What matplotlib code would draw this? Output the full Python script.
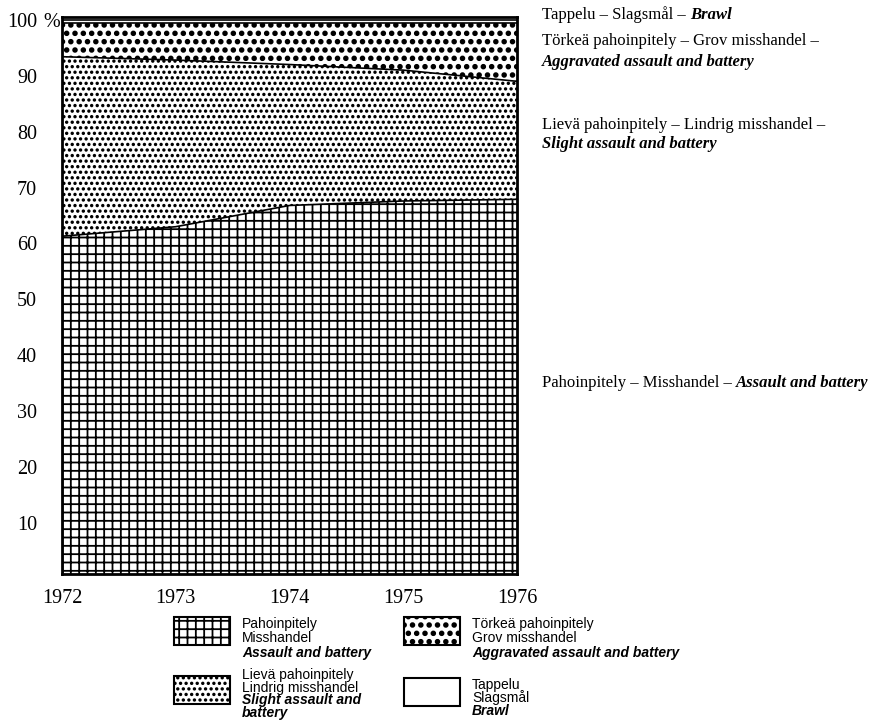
import numpy as np
import matplotlib.pyplot as plt
from matplotlib import hatch as mhatch
from matplotlib.patches import Rectangle

# osuudet prosentteina, alhaalta ylös
years = [1972, 1973, 1974, 1975, 1976]
assault = [61.3, 63.0, 66.8, 67.6, 67.9]
slight = [32.1, 29.8, 25.2, 23.4, 21.1]
aggravated = [6.1, 6.7, 7.5, 8.5, 10.5]
brawl = [0.5, 0.5, 0.5, 0.5, 0.5]

yticks = [10, 20, 30, 40, 50, 60, 70, 80, 90, 100]
ytick_labels = ['10', '20', '30', '40', '50', '60', '70', '80', '90', '100']

names_fi = ['Pahoinpitely', 'Lievä pahoinpitely', 'Törkeä pahoinpitely', 'Tappelu']
names_sv = ['Misshandel', 'Lindrig misshandel', 'Grov misshandel', 'Slagsmål']
names_en = [['Assault and battery'], ['Slight assault and', 'battery'],
            ['Aggravated assault and battery'], ['Brawl']]
hatches = ['++', '...', 'OO', '']

# pisteet täytetyiksi ja pienemmiksi kuin oletus
mhatch.LargeCircles.filled = True
mhatch.LargeCircles.size = 0.22
mhatch.SmallFilledCircles.size = 0.14
plt.rcParams['hatch.linewidth'] = 1.3
plt.rcParams['hatch.color'] = 'black'

serif = 'Liberation Serif'
sans = 'Liberation Sans'

fig = plt.figure(figsize=(8.91, 7.21), dpi=100)
ax = fig.add_axes([62 / 891, 1 - 574 / 721, (517 - 62) / 891, (574 - 17) / 721])

series = [assault, slight, aggravated, brawl]
tops = np.cumsum(np.array(series), axis=0)
bottom = np.zeros(len(years))
for i in range(len(series)):
    ax.fill_between(years, bottom, tops[i], facecolor='white', edgecolor='black',
                    hatch=hatches[i], linewidth=0)
    ax.plot(years, tops[i], color='black', lw=1.2)
    bottom = tops[i]

ax.set_xlim(1972, 1976)
ax.set_ylim(0.9, 100.5)
ax.set_xticks(years, [str(y) for y in years])
ax.set_yticks(yticks, ytick_labels)
ax.tick_params(axis='y', length=0, pad=18, labelsize=14.5)
ax.tick_params(axis='x', length=0, pad=11, labelsize=14.5)
for lab in ax.get_xticklabels() + ax.get_yticklabels():
    lab.set_family(serif)
for s in ax.spines.values():
    s.set_linewidth(2)
ax.annotate('%', xy=(0, 100), xycoords=('axes fraction', 'data'), xytext=(-13.5, 0),
            textcoords='offset points', ha='left', va='center_baseline',
            family=serif, size=14.5)

# tekstit ja selite pikselikoordinaateissa
lax = fig.add_axes([0, 0, 1, 1])
lax.set_xlim(0, 891)
lax.set_ylim(721, 0)
lax.axis('off')


def two_part(x, y, plain, italic):
    t = lax.text(x, y, plain, va='center', ha='left', family=serif, size=12)
    if italic:
        lax.annotate(italic, xy=(1, 0.5), xycoords=t, va='center', ha='left',
                     family=serif, size=12, style='italic', weight='bold')
    return t


two_part(542, 15, 'Tappelu – Slagsmål – ', 'Brawl')
two_part(542, 41, 'Törkeä pahoinpitely – Grov misshandel –', '')
lax.text(542, 62, 'Aggravated assault and battery', va='center', family=serif,
         size=12, style='italic', weight='bold')
two_part(542, 125, 'Lievä pahoinpitely – Lindrig misshandel –', '')
lax.text(542, 144, 'Slight assault and battery', va='center', family=serif,
         size=12, style='italic', weight='bold')
two_part(542, 383, 'Pahoinpitely – Misshandel – ', 'Assault and battery')

# selite
key_x = [174, 174, 404, 404]
key_y = [617, 676, 617, 678]
first_line = [624, 675, 624, 685]
step = [14.5, 12.7, 14.5, 13.0]
for i in range(4):
    lax.add_patch(Rectangle((key_x[i], key_y[i]), 56, 28, facecolor='white',
                            edgecolor='black', hatch=hatches[i], lw=1.5))
    tx = key_x[i] + 68
    lines = [names_fi[i], names_sv[i]] + names_en[i]
    for j, line in enumerate(lines):
        it = j >= 2
        lax.text(tx, first_line[i] + j * step[i], line, va='center', ha='left',
                 family=sans, size=10, style='italic' if it else 'normal',
                 weight='bold' if it else 'normal')

fig.savefig('out.png', dpi=100)
